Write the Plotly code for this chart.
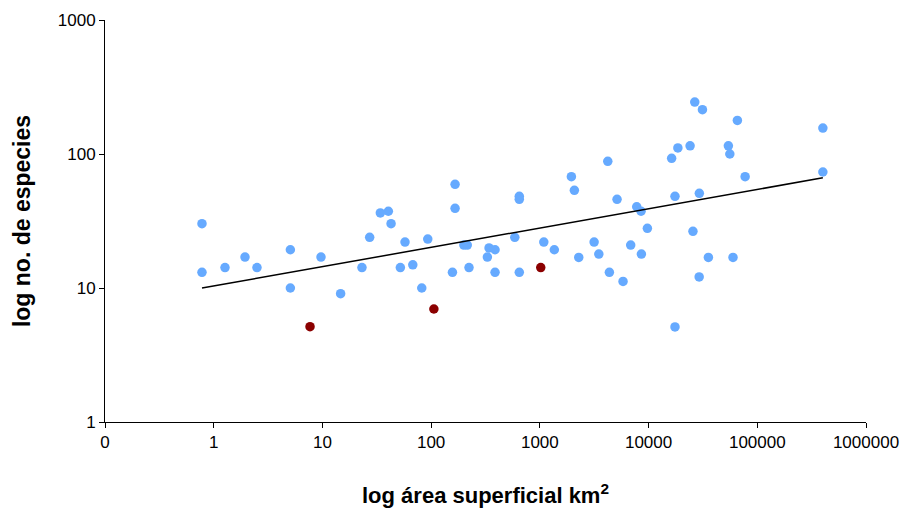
import numpy as np
import plotly.graph_objects as go

# Data (area km2, number of species)
area_blue = [0.78, 0.78, 1.27, 1.94, 2.5, 5.07, 5.07, 9.7, 14.7, 23.1, 27.2, 34.1, 40.4, 42.8,
             57.5, 52.1, 67.8, 93.1, 82.0, 166, 166, 200, 215, 157, 223, 341, 387, 329, 387,
             588, 647, 647, 647, 1087, 1358, 1950, 2077, 2279, 3155, 3487, 4215, 4360, 5129,
             5823, 6850, 7780, 8530, 8590, 9750, 26600, 31300, 65600, 401000, 18600, 24100,
             16300, 54200, 55900, 77300, 401000, 17500, 29300, 25600, 35500, 59800, 29200, 17500]
species_blue = [30.2, 13.1, 14.2, 17.0, 14.2, 19.3, 10.0, 17.0, 9.07, 14.2, 23.9, 36.3, 37.4, 30.2,
                22.0, 14.2, 14.9, 23.2, 10.0, 59.4, 39.3, 20.9, 20.9, 13.1, 14.2, 19.9, 19.3, 17.0, 13.1,
                23.9, 48.3, 45.9, 13.1, 22.0, 19.3, 67.7, 53.6, 16.9, 22.0, 17.9, 88.2, 13.1, 45.9,
                11.2, 20.9, 40.4, 37.4, 17.9, 27.9, 244, 214, 178, 156, 111, 115,
                92.9, 115, 100, 67.7, 73.4, 48.3, 50.9, 26.5, 16.9, 16.9, 12.1, 5.12]

area_red = [7.69, 106, 1019]
species_red = [5.14, 6.97, 14.2]

# Power trendline coefficients (y = a * x^b)
trend_a = 10.36
trend_b = 0.144

x_tickvals = [0.1, 1, 10, 100, 1000, 10000, 100000, 1000000]
x_ticktext = ["0", "1", "10", "100", "1000", "10000", "100000", "1000000"]
y_tickvals = [1, 10, 100, 1000]
y_ticktext = ["1", "10", "100", "1000"]

all_x = area_blue + area_red
tx = np.logspace(np.log10(min(all_x)), np.log10(max(all_x)), 100)
ty = trend_a * tx ** trend_b

fig = go.Figure()
fig.add_trace(go.Scatter(x=area_blue, y=species_blue, mode="markers",
                         marker=dict(color="#66AAFF", size=9.5), showlegend=False))
fig.add_trace(go.Scatter(x=area_red, y=species_red, mode="markers",
                         marker=dict(color="#8B0000", size=9.5), showlegend=False))
fig.add_trace(go.Scatter(x=tx, y=ty, mode="lines",
                         line=dict(color="black", width=1.5), showlegend=False))

font_family = "Liberation Sans, Arial, sans-serif"
fig.update_layout(
    width=904, height=510,
    margin=dict(l=105, r=38, t=20, b=88),
    plot_bgcolor="white", paper_bgcolor="white",
    font=dict(family=font_family, size=17, color="black"),
)
fig.update_xaxes(type="log", range=[-1, 6], tickvals=x_tickvals, ticktext=x_ticktext,
                 showline=True, linecolor="black", linewidth=1, ticks="outside",
                 ticklen=5, tickcolor="black", showgrid=False, zeroline=False,
                 automargin=False,
                 title=dict(text="<b>log área superficial km<sup>2</sup></b>",
                            font=dict(size=22), standoff=36))
fig.update_yaxes(type="log", range=[0, 3], tickvals=y_tickvals, ticktext=y_ticktext,
                 showline=True, linecolor="black", linewidth=1, ticks="outside",
                 ticklen=5, tickcolor="black", showgrid=False, zeroline=False,
                 automargin=False,
                 title=dict(text="<b>log no. de especies</b>", font=dict(size=23), standoff=20))

fig.write_html("out.html")
